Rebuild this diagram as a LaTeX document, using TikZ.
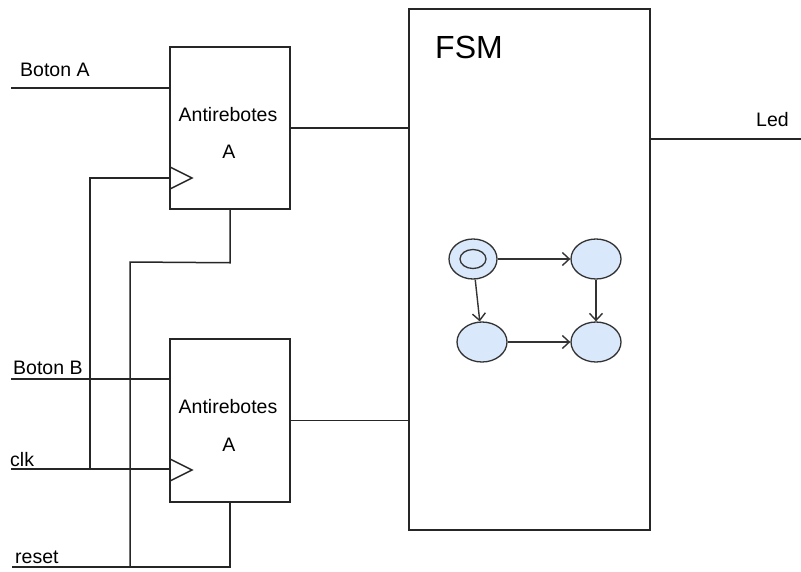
\documentclass[tikz,border=0pt]{standalone}
\usepackage{fontspec}
\setmainfont{Liberation Sans}
\usetikzlibrary{shapes.geometric,arrows.meta}
\begin{document}
\begin{tikzpicture}[x=1pt,y=-1pt,
  wire/.style={line width=1.5pt,draw=black!85},
  block/.style={draw=black!85,line width=1.5pt,rectangle,inner sep=0pt,fill=white},
  lbl/.style={anchor=base west,inner sep=0pt,font=\fontsize{19.5}{21}\selectfont},
  ctext/.style={anchor=base,inner sep=0pt,font=\fontsize{19.5}{21}\selectfont},
  state/.style={ellipse,draw=black!80,line width=1.3pt,minimum width=50pt,minimum height=40pt,inner sep=0pt},
  tr/.style={line width=1.4pt,draw=black!80,-{Straight Barb[length=7pt,width=13pt,line width=1.4pt]}}]
\useasboundingbox (0,0) rectangle (801,571);
\definecolor{stfill}{HTML}{DAE8FC}
% blocks
\node[block,minimum width=120pt,minimum height=162pt] (A) at (230,128) {};
\node[block,minimum width=120pt,minimum height=163pt] (B) at (230,420.5) {};
\node[block,minimum width=241pt,minimum height=521pt] (F) at (529.5,269.5) {};
% texts in blocks
\node[ctext] (ta1) at (228,121) {Antirebotes};
\node[ctext] (ta2) at (229,158) {A};
\node[ctext] (tb1) at (228,413) {Antirebotes};
\node[ctext] (tb2) at (229,451) {A};
\node[lbl,font=\fontsize{32}{34}\selectfont] (tf) at (435,58) {FSM};
% labels
\node[lbl] (lba) at (20,76) {Boton A};
\node[lbl] (lbb) at (13,374) {Boton B};
\node[lbl] (lclk) at (10,466) {clk};
\node[lbl] (lrst) at (15,563) {reset};
\node[lbl] (lled) at (756,126) {Led};
% pin coordinates
\coordinate (inA) at (11,88);
\coordinate (inB) at (11,379);
\coordinate (clkIn) at (11,469);
\coordinate (rstIn) at (12,567);
\coordinate (ledOut) at (801,139);
% clock triangles
\draw[wire,line join=miter] (170,167) -- (192,178) -- (170,189);
\draw[wire,line join=miter] (170,459) -- (192,470) -- (170,481);
% inputs
\draw[wire] (inA) -- (inA -| A.west);
\draw[wire] (inB) -- (inB -| B.west);
\draw[wire] (clkIn) -- (clkIn -| B.west);
\draw[wire] (90,469) -- (90,178) -- (170,178);
% reset
\draw[wire] (A.south) -- ++(0,53) -- (130,262) -- (130,567);
\draw[wire] (B.south) |- (rstIn);
% outputs
\draw[wire] (A.east) -- (A.east -| F.west);
\draw[wire] (B.east) -- (B.east -| F.west);
\draw[wire] (F.east |- ledOut) -- (ledOut);
% state machine
\node[state,fill=stfill,minimum width=48pt] (s0) at (473,259) {};
\node[ellipse,draw=black!80,line width=1.3pt,minimum width=26pt,minimum height=19pt,inner sep=0pt] (s0i) at (473,259) {};
\node[state,fill=stfill] (s1) at (596,259) {};
\node[state,fill=stfill] (s2) at (482,342) {};
\node[state,fill=stfill] (s3) at (596,342) {};
\draw[tr] (s0) -- (s1);
\draw[tr] (s0) -- (s2);
\draw[tr] (s1) -- (s3);
\draw[tr] (s2) -- (s3);
\end{tikzpicture}
\end{document}
